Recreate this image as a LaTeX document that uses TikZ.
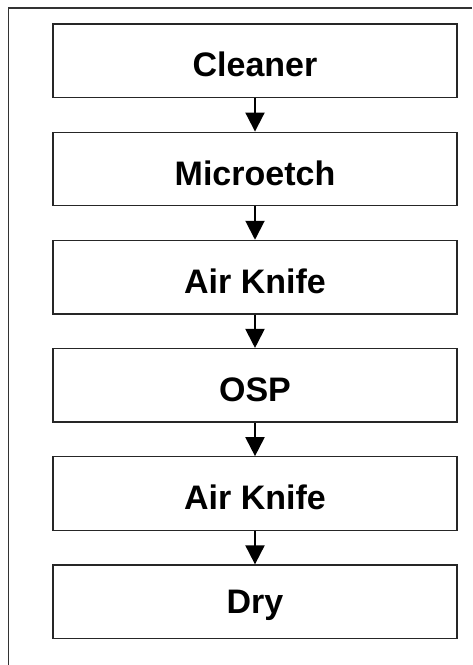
\documentclass[tikz,border=0pt]{standalone}
\usepackage{fontspec}
\setmainfont{Liberation Sans}
\usetikzlibrary{arrows.meta}
\begin{document}
\begin{tikzpicture}[x=1pt,y=-1pt,
  stepbox/.style={draw=black!85,line width=1.3pt,minimum width=404pt,minimum height=73.5pt,inner sep=0pt,
    font=\fontsize{34}{40}\selectfont\bfseries},
  flow/.style={line width=2pt,-{Triangle[width=19pt,length=19pt]}},
  frame/.style={draw=black!80,line width=1.3pt}]
\useasboundingbox (0,0) rectangle (472,665);
\draw[frame] (8.5,665) -- (8.5,8) -- (472,8);
\foreach \n/\t [count=\k from 0] in {a/Cleaner,b/Microetch,c/Air Knife,d/OSP,e/Air Knife,f/Dry}{
  \node[stepbox] (\n) at (255,{24+36.75+108.2*\k}) {};
  \node[font=\fontsize{34}{40}\selectfont\bfseries,inner sep=0pt,anchor=center,yshift=-4pt] (\n t) at (\n.center) {\t};
}
\foreach \u/\v in {a/b,b/c,c/d,d/e,e/f}{
  \draw[flow] (\u.south) -- (\v.north);
}
\end{tikzpicture}
\end{document}
